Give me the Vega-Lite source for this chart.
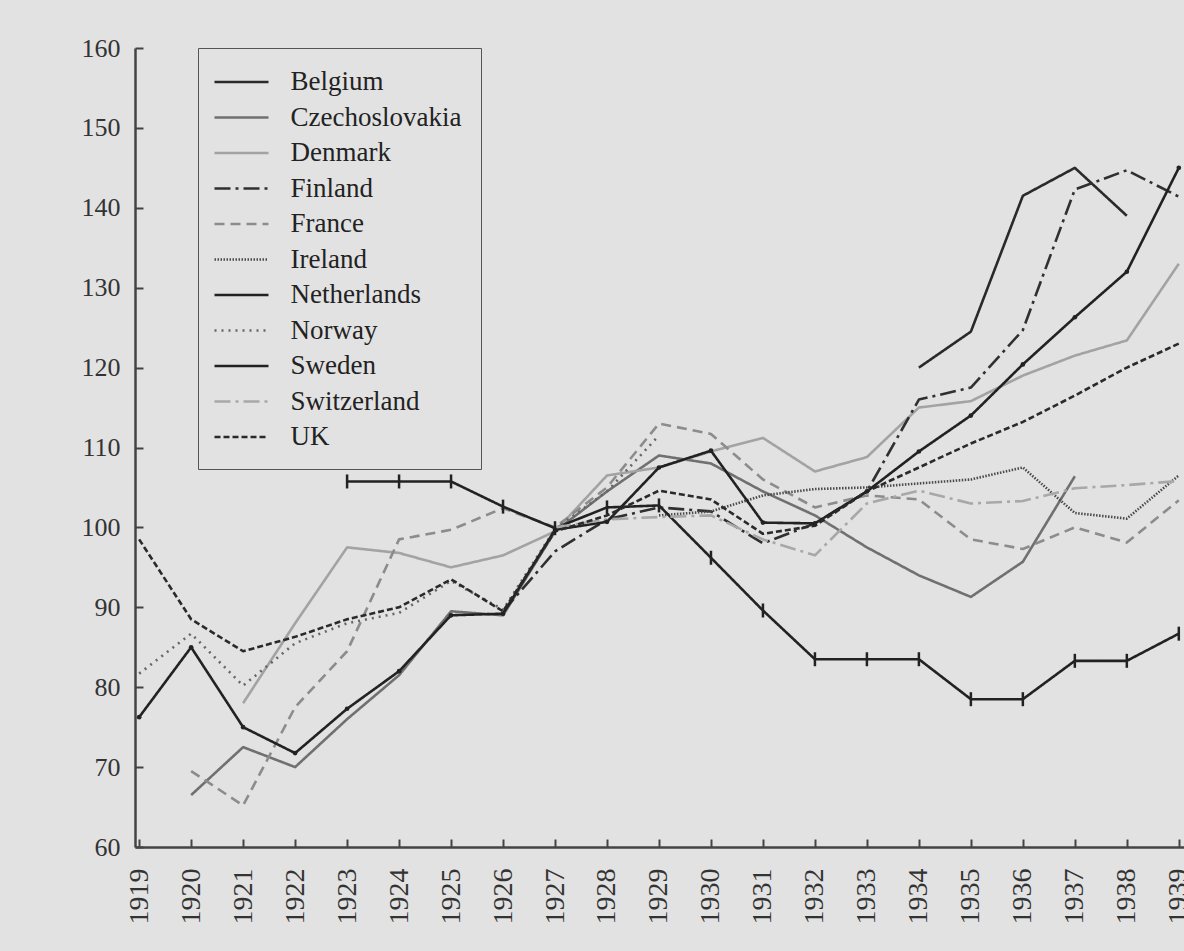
{
  "$schema": "https://vega.github.io/schema/vega-lite/v6.json",
  "width": 1049,
  "height": 799,
  "autosize": "none",
  "padding": {"left": 135, "top": 48, "right": 0, "bottom": 104},
  "background": "#e2e2e2",
  "config": {
    "view": {"stroke": null},
    "font": "Liberation Serif"
  },
  "data": {"values": [
    {"country":"Belgium","year":1934,"value":120},{"country":"Belgium","year":1935,"value":124.5},{"country":"Belgium","year":1936,"value":141.5},{"country":"Belgium","year":1937,"value":145},{"country":"Belgium","year":1938,"value":139},
    {"country":"Czechoslovakia","year":1920,"value":66.5},{"country":"Czechoslovakia","year":1921,"value":72.5},{"country":"Czechoslovakia","year":1922,"value":70},{"country":"Czechoslovakia","year":1923,"value":76},{"country":"Czechoslovakia","year":1924,"value":81.5},{"country":"Czechoslovakia","year":1925,"value":89.5},{"country":"Czechoslovakia","year":1926,"value":89},{"country":"Czechoslovakia","year":1927,"value":99.5},{"country":"Czechoslovakia","year":1928,"value":104.5},{"country":"Czechoslovakia","year":1929,"value":109},{"country":"Czechoslovakia","year":1930,"value":108},{"country":"Czechoslovakia","year":1931,"value":104.5},{"country":"Czechoslovakia","year":1932,"value":101.5},{"country":"Czechoslovakia","year":1933,"value":97.5},{"country":"Czechoslovakia","year":1934,"value":94},{"country":"Czechoslovakia","year":1935,"value":91.3},{"country":"Czechoslovakia","year":1936,"value":95.7},{"country":"Czechoslovakia","year":1937,"value":106.4},
    {"country":"Denmark","year":1921,"value":78},{"country":"Denmark","year":1922,"value":88},{"country":"Denmark","year":1923,"value":97.5},{"country":"Denmark","year":1924,"value":96.8},{"country":"Denmark","year":1925,"value":95},{"country":"Denmark","year":1926,"value":96.5},{"country":"Denmark","year":1927,"value":99.5},{"country":"Denmark","year":1928,"value":106.5},{"country":"Denmark","year":1929,"value":107.5},{"country":"Denmark","year":1930,"value":109.5},{"country":"Denmark","year":1931,"value":111.2},{"country":"Denmark","year":1932,"value":107},{"country":"Denmark","year":1933,"value":108.8},{"country":"Denmark","year":1934,"value":115},{"country":"Denmark","year":1935,"value":115.8},{"country":"Denmark","year":1936,"value":119},{"country":"Denmark","year":1937,"value":121.5},{"country":"Denmark","year":1938,"value":123.4},{"country":"Denmark","year":1939,"value":133},
    {"country":"Finland","year":1926,"value":89.5},{"country":"Finland","year":1927,"value":97},{"country":"Finland","year":1928,"value":101},{"country":"Finland","year":1929,"value":102.5},{"country":"Finland","year":1930,"value":102},{"country":"Finland","year":1931,"value":98},{"country":"Finland","year":1932,"value":100.5},{"country":"Finland","year":1933,"value":104.5},{"country":"Finland","year":1934,"value":116},{"country":"Finland","year":1935,"value":117.5},{"country":"Finland","year":1936,"value":124.7},{"country":"Finland","year":1937,"value":142.3},{"country":"Finland","year":1938,"value":144.7},{"country":"Finland","year":1939,"value":141.4},
    {"country":"France","year":1920,"value":69.5},{"country":"France","year":1921,"value":65.2},{"country":"France","year":1922,"value":77.5},{"country":"France","year":1923,"value":84.5},{"country":"France","year":1924,"value":98.5},{"country":"France","year":1925,"value":99.7},{"country":"France","year":1926,"value":102.4},{"country":"France","year":1927,"value":100},{"country":"France","year":1928,"value":105},{"country":"France","year":1929,"value":113},{"country":"France","year":1930,"value":111.7},{"country":"France","year":1931,"value":106},{"country":"France","year":1932,"value":102.5},{"country":"France","year":1933,"value":104},{"country":"France","year":1934,"value":103.5},{"country":"France","year":1935,"value":98.5},{"country":"France","year":1936,"value":97.3},{"country":"France","year":1937,"value":100},{"country":"France","year":1938,"value":98.1},{"country":"France","year":1939,"value":103.4},
    {"country":"Ireland","year":1929,"value":101.5},{"country":"Ireland","year":1930,"value":102},{"country":"Ireland","year":1931,"value":104},{"country":"Ireland","year":1932,"value":104.8},{"country":"Ireland","year":1933,"value":105},{"country":"Ireland","year":1934,"value":105.5},{"country":"Ireland","year":1935,"value":106},{"country":"Ireland","year":1936,"value":107.5},{"country":"Ireland","year":1937,"value":101.8},{"country":"Ireland","year":1938,"value":101.1},{"country":"Ireland","year":1939,"value":106.5},
    {"country":"Netherlands","year":1923,"value":105.75},{"country":"Netherlands","year":1924,"value":105.75},{"country":"Netherlands","year":1925,"value":105.75},{"country":"Netherlands","year":1926,"value":102.6},{"country":"Netherlands","year":1927,"value":99.9},{"country":"Netherlands","year":1928,"value":102.5},{"country":"Netherlands","year":1929,"value":102.75},{"country":"Netherlands","year":1930,"value":96.2},{"country":"Netherlands","year":1931,"value":89.6},{"country":"Netherlands","year":1932,"value":83.5},{"country":"Netherlands","year":1933,"value":83.5},{"country":"Netherlands","year":1934,"value":83.5},{"country":"Netherlands","year":1935,"value":78.5},{"country":"Netherlands","year":1936,"value":78.5},{"country":"Netherlands","year":1937,"value":83.3},{"country":"Netherlands","year":1938,"value":83.3},{"country":"Netherlands","year":1939,"value":86.7},
    {"country":"Norway","year":1919,"value":81.7},{"country":"Norway","year":1920,"value":86.7},{"country":"Norway","year":1921,"value":80.2},{"country":"Norway","year":1922,"value":85.5},{"country":"Norway","year":1923,"value":88},{"country":"Norway","year":1924,"value":89.3},{"country":"Norway","year":1925,"value":93.3},{"country":"Norway","year":1926,"value":89.7},{"country":"Norway","year":1927,"value":99.8},{"country":"Norway","year":1928,"value":104.5},{"country":"Norway","year":1929,"value":111.5},
    {"country":"Sweden","year":1919,"value":76.25},{"country":"Sweden","year":1920,"value":85},{"country":"Sweden","year":1921,"value":75},{"country":"Sweden","year":1922,"value":71.75},{"country":"Sweden","year":1923,"value":77.3},{"country":"Sweden","year":1924,"value":82},{"country":"Sweden","year":1925,"value":89},{"country":"Sweden","year":1926,"value":89.2},{"country":"Sweden","year":1927,"value":99.7},{"country":"Sweden","year":1928,"value":100.7},{"country":"Sweden","year":1929,"value":107.5},{"country":"Sweden","year":1930,"value":109.6},{"country":"Sweden","year":1931,"value":100.6},{"country":"Sweden","year":1932,"value":100.5},{"country":"Sweden","year":1933,"value":104.5},{"country":"Sweden","year":1934,"value":109.5},{"country":"Sweden","year":1935,"value":114},{"country":"Sweden","year":1936,"value":120.4},{"country":"Sweden","year":1937,"value":126.3},{"country":"Sweden","year":1938,"value":132},{"country":"Sweden","year":1939,"value":145},
    {"country":"Switzerland","year":1927,"value":100},{"country":"Switzerland","year":1928,"value":101},{"country":"Switzerland","year":1929,"value":101.3},{"country":"Switzerland","year":1930,"value":101.5},{"country":"Switzerland","year":1931,"value":98.5},{"country":"Switzerland","year":1932,"value":96.5},{"country":"Switzerland","year":1933,"value":103},{"country":"Switzerland","year":1934,"value":104.6},{"country":"Switzerland","year":1935,"value":103},{"country":"Switzerland","year":1936,"value":103.3},{"country":"Switzerland","year":1937,"value":104.9},{"country":"Switzerland","year":1938,"value":105.3},{"country":"Switzerland","year":1939,"value":105.8},
    {"country":"UK","year":1919,"value":98.5},{"country":"UK","year":1920,"value":88.5},{"country":"UK","year":1921,"value":84.5},{"country":"UK","year":1922,"value":86.3},{"country":"UK","year":1923,"value":88.5},{"country":"UK","year":1924,"value":90},{"country":"UK","year":1925,"value":93.5},{"country":"UK","year":1926,"value":89.5},{"country":"UK","year":1927,"value":99.5},{"country":"UK","year":1928,"value":101.5},{"country":"UK","year":1929,"value":104.6},{"country":"UK","year":1930,"value":103.5},{"country":"UK","year":1931,"value":99.2},{"country":"UK","year":1932,"value":100.2},{"country":"UK","year":1933,"value":104.5},{"country":"UK","year":1934,"value":107.5},{"country":"UK","year":1935,"value":110.5},{"country":"UK","year":1936,"value":113.2},{"country":"UK","year":1937,"value":116.5},{"country":"UK","year":1938,"value":120},{"country":"UK","year":1939,"value":123}
  ]},
  "encoding": {
    "x": {"field": "year", "type": "quantitative",
      "scale": {"domain": [1918.92, 1939.1], "nice": false, "zero": false},
      "axis": {"title": null, "values": [1919,1920,1921,1922,1923,1924,1925,1926,1927,1928,1929,1930,1931,1932,1933,1934,1935,1936,1937,1938,1939],
        "format": "d", "labelAngle": -90, "labelFontSize": 28, "labelColor": "#333", "labelPadding": 29,
        "tickSize": -8, "tickColor": "#444", "tickWidth": 2, "domainColor": "#444", "domainWidth": 2.5, "grid": false, "labelFont": "Liberation Serif", "labelBaseline": "middle", "labelAlign": "right"}},
    "y": {"field": "value", "type": "quantitative",
      "scale": {"domain": [60, 160], "nice": false, "zero": false},
      "axis": {"title": null, "values": [60,70,80,90,100,110,120,130,140,150,160],
        "labelFontSize": 26, "labelColor": "#333", "labelPadding": 23,
        "tickSize": -8, "tickColor": "#444", "tickWidth": 2, "domainColor": "#444", "domainWidth": 2.5, "grid": false, "labelFont": "Liberation Serif"}}
  },
  "layer": [
    {
      "mark": {"type": "line", "clip": true, "strokeCap": "butt", "strokeJoin": "round", "strokeWidth": 2.6},
      "encoding": {
        "detail": {"field": "country"},
        "color": {"field": "country", "type": "nominal",
          "scale": {"domain": ["Belgium","Czechoslovakia","Denmark","Finland","France","Ireland","Netherlands","Norway","Sweden","Switzerland","UK"],
            "range": ["#2a2a2a","#707070","#a3a3a3","#303030","#8c8c8c","#4a4a4a","#222222","#666666","#222222","#a8a8a8","#2a2a2a"]},
          "legend": {"title": null, "orient": "none", "legendX": 63, "legendY": 0,
            "symbolType": "M-2,0H2", "symbolSize": 729, "symbolStrokeWidth": 2.6, "symbolOffset": 9.5,
            "labelFontSize": 27, "labelFont": "Liberation Serif", "labelColor": "#222", "labelOffset": 34,
            "rowPadding": 7.5, "padding": 19, "strokeColor": "#555", "fillColor": "#e2e2e2", "labelLimit": 300}},
        "strokeDash": {"field": "country", "type": "nominal",
          "scale": {"domain": ["Belgium","Czechoslovakia","Denmark","Finland","France","Ireland","Netherlands","Norway","Sweden","Switzerland","UK"],
            "range": [[1,0],[1,0],[1,0],[16,5,3,5],[10,6],[1.5,1.5],[1,0],[2,5],[1,0],[16,5,3,5],[6,3]]},
          "legend": {"title": null, "orient": "none", "legendX": 63, "legendY": 0,
            "symbolType": "M-2,0H2", "symbolSize": 729, "symbolStrokeWidth": 2.6, "symbolOffset": 9.5,
            "labelFontSize": 27, "labelFont": "Liberation Serif", "labelColor": "#222", "labelOffset": 34,
            "rowPadding": 7.5, "padding": 19, "strokeColor": "#555", "fillColor": "#e2e2e2", "labelLimit": 300}}
      }
    },
    {
      "transform": [{"filter": "datum.country === 'Netherlands'"}],
      "mark": {"type": "point", "shape": "M0,-1V1", "size": 196, "stroke": "#222", "strokeWidth": 2.5, "filled": false, "opacity": 1}
    },
    {
      "transform": [{"filter": "datum.country === 'Sweden'"}],
      "mark": {"type": "point", "shape": "circle", "size": 22, "color": "#222", "filled": true, "opacity": 1}
    }
  ]
}
